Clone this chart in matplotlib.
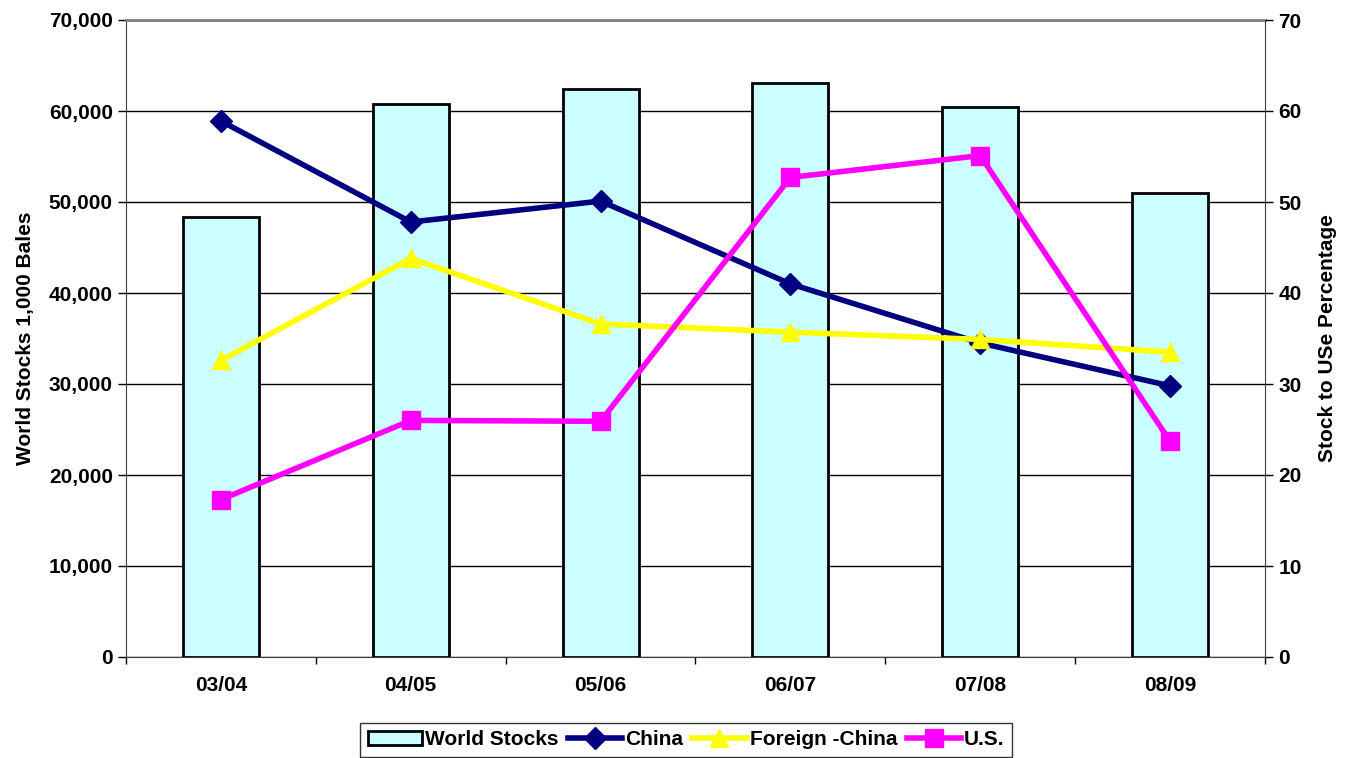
import matplotlib.pyplot as plt
import numpy as np
from matplotlib.ticker import FuncFormatter, FixedLocator

plt.rcParams['font.family'] = ['Liberation Sans', 'DejaVu Sans']
plt.rcParams['font.weight'] = 'bold'

temporadas = ["03/04", "04/05", "05/06", "06/07", "07/08", "08/09"]
stocks_mundo = [48300, 60750, 62400, 63050, 60400, 51000]
china = [58.9, 47.8, 50.1, 41.0, 34.5, 29.8]
extranjero_china = [32.6, 43.8, 36.6, 35.7, 34.9, 33.5]
eeuu = [17.3, 26.0, 25.9, 52.7, 55.1, 23.7]

fs = 15

fig = plt.figure(figsize=(13.49, 7.58), dpi=100)
ax = fig.add_axes([126/1349, 1 - 657/758, (1265-126)/1349, (657-20)/758])
x = np.arange(len(temporadas))

ax.set_axisbelow(True)
ax.yaxis.grid(True, color='black', linewidth=1)
barras = ax.bar(x, stocks_mundo, width=0.4, color='#ccffff', edgecolor='black',
                linewidth=2, label='World Stocks', zorder=2)
ax.set_xlim(-0.5, 5.5)
ax.set_ylim(0, 70000)
ax.set_yticks(np.arange(0, 70001, 10000))
ax.yaxis.set_major_formatter(FuncFormatter(lambda v, p: f"{int(v):,}"))
ax.set_xticks(x)
ax.set_xticklabels(temporadas, fontsize=fs, fontweight='bold')
ax.xaxis.set_minor_locator(FixedLocator(np.arange(-0.5, 6, 1)))
ax.tick_params(axis='x', which='major', length=0, pad=14)
ax.tick_params(axis='x', which='minor', length=5, width=1, direction='out')
ax.tick_params(axis='y', length=6, width=1, direction='out', labelsize=fs)
ax.set_ylabel("World Stocks 1,000 Bales", fontsize=fs, fontweight='bold', labelpad=10)
ax.spines['top'].set_color('#808080')
ax.spines['top'].set_linewidth(2)
ax.spines['left'].set_color('#404040')
ax.spines['bottom'].set_color('#404040')
ax.spines['right'].set_visible(False)

ax2 = ax.twinx()
ax2.set_ylim(0, 70)
ax2.set_yticks(np.arange(0, 71, 10))
ax2.tick_params(axis='y', length=6, width=1, direction='out', labelsize=fs)
ax2.spines['right'].set_color('#404040')
ax2.spines['top'].set_visible(False)
ax2.spines['left'].set_visible(False)
ax2.spines['bottom'].set_visible(False)
ax2.set_ylabel("Stock to USe Percentage", fontsize=fs, fontweight='bold', labelpad=12)
for lab in ax.get_yticklabels() + ax2.get_yticklabels():
    lab.set_fontweight('bold')

l1, = ax2.plot(x, china, color='#000080', linewidth=4, marker='D', markersize=11, label='China')
l2, = ax2.plot(x, extranjero_china, color='#ffff00', linewidth=4, marker='^', markersize=13, label='Foreign -China')
l3, = ax2.plot(x, eeuu, color='#ff00ff', linewidth=4, marker='s', markersize=13, label='U.S.')

leg = fig.legend([barras, l1, l2, l3], ['World Stocks', 'China', 'Foreign -China', 'U.S.'],
                 loc='lower center', bbox_to_anchor=(0.5085, -0.012), ncol=4, frameon=True,
                 fancybox=False, edgecolor='black', fontsize=fs, handlelength=2.6,
                 handletextpad=0.15, columnspacing=0.45, borderpad=0.35)
leg.get_frame().set_linewidth(1)
for t in leg.get_texts():
    t.set_fontweight('bold')

fig.savefig("out.png", dpi=100)
